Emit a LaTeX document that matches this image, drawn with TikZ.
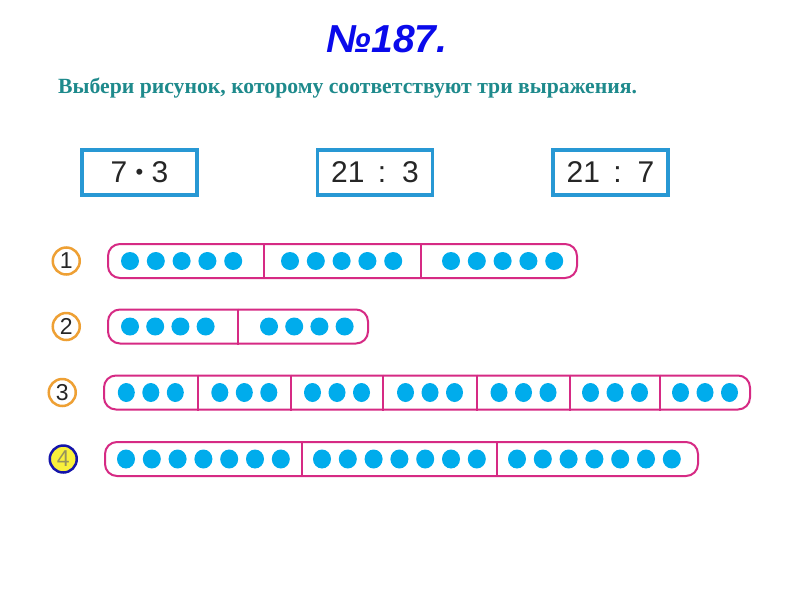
\documentclass[tikz,border=0pt]{standalone}
\usepackage{fontspec}
\setmainfont{Liberation Serif}
\newfontfamily\arialfont{Liberation Sans}
\usetikzlibrary{positioning}
\usetikzlibrary{shapes.geometric}
\definecolor{numblue}{RGB}{10,10,235}
\definecolor{taskteal}{RGB}{30,138,140}
\definecolor{boxblue}{RGB}{40,152,212}
\definecolor{barpink}{RGB}{214,42,132}
\definecolor{dotcyan}{RGB}{0,172,236}
\definecolor{ringorange}{RGB}{238,160,52}
\definecolor{ringblue}{RGB}{20,20,170}
\definecolor{markyellow}{RGB}{248,240,60}
\tikzset{
    x=1pt, y=-1pt, % one unit is one pixel of the slide
    node distance=26pt, % gap between a number and its bar
    expr/.style={draw=boxblue, line width=3.5pt, minimum width=115pt, minimum height=45pt,
        inner sep=0pt, text=black!85, font=\arialfont\fontsize{30}{36}\selectfont},
    bar/.style={draw=barpink, line width=2pt, rounded corners=12pt, minimum height=34pt, inner sep=0pt},
    divider/.style={draw=barpink, line width=2pt},
    dot/.style={circle, fill=dotcyan, minimum size=18pt, inner sep=0pt},
    odot/.style={ellipse, fill=dotcyan, minimum width=17pt, minimum height=19pt, inner sep=0pt},
    num/.style={circle, draw=ringorange, line width=2.5pt, minimum size=27pt, inner sep=0pt,
        text=black!85, font=\arialfont\fontsize{23}{26}\selectfont},
}
\newcommand{\smalldot}{\raisebox{3pt}{\fontsize{22}{26}\selectfont•}}

\begin{document}
\begin{tikzpicture}
  \fill[white] (0,0) rectangle (800,600);

  % heading
  \node[text=numblue, font=\arialfont\bfseries\itshape\fontsize{39}{44}\selectfont] (title) at (387,39) {№187.};
  \node[anchor=base west, inner sep=0pt, text=taskteal, font=\bfseries\fontsize{21.7}{25}\selectfont] (task) at (58,93)
    {Выбери рисунок, которому соответствуют три выражения.};

  % the three expressions
  \node[expr] (e_1) at (139.5,172.5) {7 \smalldot{} 3};
  \node[expr] (e_2) [right=117pt of e_1] {21\, :\, 3};
  \node[expr] (e_3) [right=117pt of e_2] {21\, :\, 7};

  % bars
  \node[bar, minimum width=469pt] (bar1) at (342.5,261) {};
  \node[bar, minimum width=260pt] (bar2) at (238,326.5) {};
  \node[bar, minimum width=646pt] (bar3) at (427,392.5) {};
  \node[bar, minimum width=593pt] (bar4) at (401.5,459) {};

  \node[num] (n_1) [left=of bar1] {1};
  \node[num] (n_2) [left=of bar2] {2};
  \node[num] (n_3) [left=of bar3] {3};
  \node[num, draw=ringblue, fill=markyellow, text=black!45!yellow!70!gray] (n_4) [left=of bar4] {4};

  \foreach \x in {264,421} \draw[divider] (\x,0 |- bar1.north) -- (\x,0 |- bar1.south);
  \foreach \x in {238} \draw[divider] (\x,0 |- bar2.north) -- (\x,0 |- bar2.south);
  \foreach \x in {197.6,291,383,477,570,660} \draw[divider] (\x,0 |- bar3.north) -- (\x,0 |- bar3.south);
  \foreach \x in {302,497} \draw[divider] (\x,0 |- bar4.north) -- (\x,0 |- bar4.south);

  % counters
  \foreach \s [count=\i] in {130,290,451}
    \foreach \k in {0,...,4} \node[dot] (d1\i\k) at (\s+25.8*\k,261) {};
  \foreach \s [count=\i] in {130,269}
    \foreach \k in {0,...,3} \node[dot] (d2\i\k) at (\s+25.2*\k,326.5) {};
  \foreach \s [count=\i] in {126.3,219.8,312.5,405.5,499,590.5,680.5}
    \foreach \k in {0,...,2} \node[odot] (d3\i\k) at (\s+24.5*\k,392.5) {};
  \foreach \s [count=\i] in {126,322,517}
    \foreach \k in {0,...,6} \node[odot, minimum width=18pt] (d4\i\k) at (\s+25.8*\k,459) {};
\end{tikzpicture}
\end{document}
